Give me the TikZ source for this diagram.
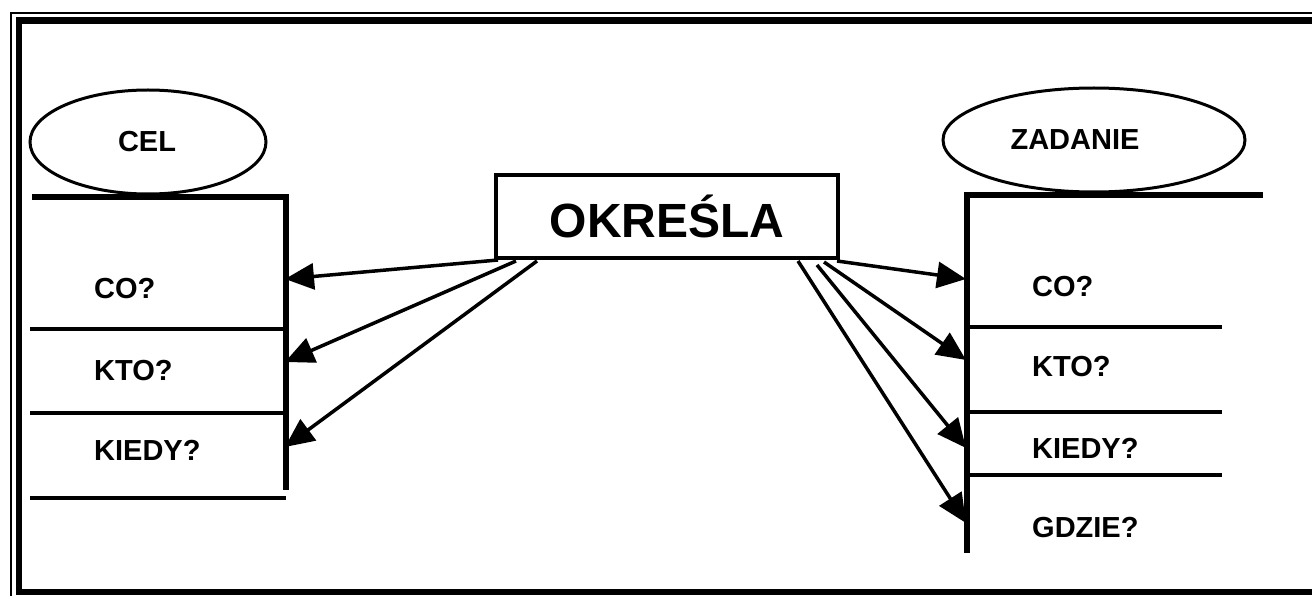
\documentclass[tikz,border=0pt]{standalone}
\usepackage{fontspec}
\setmainfont{Liberation Sans}
\usetikzlibrary{shapes.geometric, arrows.meta, positioning}

\begin{document}
\begin{tikzpicture}[
    x=1pt, y=-1pt,
    oval/.style={ellipse, draw, line width=3pt, inner sep=0pt, minimum width=236pt, minimum height=104pt},
    label/.style={anchor=west, inner sep=0pt, font=\fontsize{29}{32}\selectfont\bfseries},
    title/.style={rectangle, draw, line width=3.5pt, minimum width=342pt, minimum height=83pt, inner sep=0pt, font=\fontsize{48}{52}\selectfont\bfseries},
    row/.style={line width=3.5pt},
    edge/.style={line width=6pt},
    arrow/.style={-{Triangle[length=29pt, width=26pt]}, line width=3.5pt}
]

\useasboundingbox (0,0) rectangle (1312,596);
\clip (0,0) rectangle (1312,596);

% Frame
\draw[line width=1.5pt] (1330,13) -- (11,13) -- (11,610);
\draw[line width=6.5pt] (1330,20.5) -- (19,20.5) -- (19,592) -- (1330,592);

% Middle box
\node[title] (okr) at (667,216.5) {OKREŚLA};

% Left: CEL
\node[oval] (cel) at (148,142) {};
\node[label, anchor=center] (celtxt) at (147,142) {CEL};
\draw[edge] (32,197) -- (286,197) -- (286,490);
\draw[row] (30,329) -- (286,329);
\draw[row] (30,413) -- (286,413);
\draw[row] (30,498) -- (286,498);
\node[label] (celco) at (94,289) {CO?};
\node[label] (celkto) at (94,371) {KTO?};
\node[label] (celkiedy) at (94,450) {KIEDY?};

% Right: ZADANIE
\node[oval, minimum width=302pt] (zad) at (1094,140) {};
\node[label, anchor=center] (zadtxt) at (1075,140) {ZADANIE};
\draw[edge] (1263,195) -- (967,195) -- (967,553);
\draw[row] (967,327) -- (1222,327);
\draw[row] (967,412) -- (1222,412);
\draw[row] (967,475) -- (1222,475);
\node[label] (zadco) at (1032,287) {CO?};
\node[label] (zadkto) at (1032,367) {KTO?};
\node[label] (zadkiedy) at (1032,448) {KIEDY?};
\node[label] (zadgdzie) at (1032,528) {GDZIE?};

% Arrow ends
\coordinate (l1) at (498,260);
\coordinate (l2) at (516,261);
\coordinate (l3) at (537,261);
\coordinate (r1) at (837,261);
\coordinate (r2) at (824,262);
\coordinate (r3) at (817,265);
\coordinate (r4) at (798,261);
\coordinate (celA) at (285,279);
\coordinate (celB) at (285,362);
\coordinate (celC) at (285,447);
\coordinate (zadA) at (966,279);
\coordinate (zadB) at (966,360);
\coordinate (zadC) at (966,448);
\coordinate (zadD) at (966,523);

% Arrows
\draw[arrow] (l1) -- (celA);
\draw[arrow] (l2) -- (celB);
\draw[arrow] (l3) -- (celC);
\draw[arrow] (r1) -- (zadA);
\draw[arrow] (r2) -- (zadB);
\draw[arrow] (r3) -- (zadC);
\draw[arrow] (r4) -- (zadD);

\end{tikzpicture}
\end{document}
